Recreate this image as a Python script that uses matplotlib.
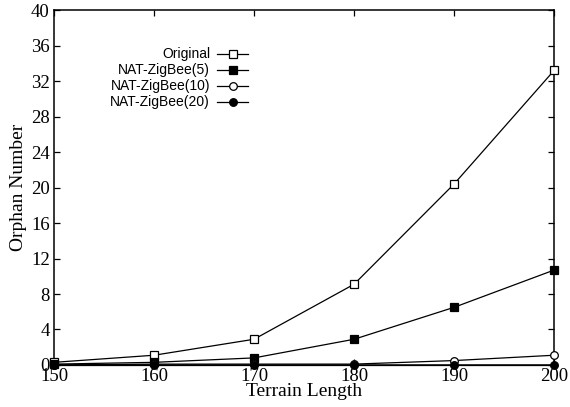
import matplotlib
matplotlib.use("Agg")
import matplotlib.pyplot as plt
from matplotlib.lines import Line2D

terrain = [150, 160, 170, 180, 190, 200]
original = [0.3, 1.1, 2.9, 9.1, 20.4, 33.2]
nat5 = [0.1, 0.3, 0.8, 2.9, 6.5, 10.7]
nat10 = [0.0, 0.1, 0.1, 0.1, 0.5, 1.1]
nat20 = [0.0, 0.0, 0.0, 0.0, 0.0, 0.0]
labels = ["Original", "NAT-ZigBee(5)", "NAT-ZigBee(10)", "NAT-ZigBee(20)"]
yticks = [0, 4, 8, 12, 16, 20, 24, 28, 32, 36, 40]
xticks = [150, 160, 170, 180, 190, 200]

fig = plt.figure(figsize=(5.7, 4.07), dpi=100)
ax = fig.add_axes([0.0947, 0.1032, 0.8775, 0.8722])

lw = 0.9
styles = [
    dict(marker="s", mfc="white"),
    dict(marker="s", mfc="black"),
    dict(marker="o", mfc="white"),
    dict(marker="o", mfc="black"),
]
series = [original, nat5, nat10, nat20]
for vals, st in zip(series, styles):
    ax.plot(terrain, vals, color="black", lw=lw, mec="black", ms=5.5, mew=0.9,
            clip_on=False, zorder=3, **st)

ax.set_xlim(150, 200)
ax.set_ylim(0, 40)
ax.set_xticks(xticks)
ax.set_yticks(yticks)
ax.tick_params(direction="in", length=4, width=0.9, top=True, right=True)
ax.tick_params(axis="x", pad=2)
ax.tick_params(axis="y", pad=3)
for t in ax.get_xticklabels() + ax.get_yticklabels():
    t.set_fontfamily("Liberation Serif")
    t.set_fontsize(13.5)
for s in ax.spines.values():
    s.set_linewidth(1.1)

ax.set_xlabel("Terrain Length", fontfamily="Liberation Serif", fontsize=14, labelpad=-1)
ax.set_ylabel("Orphan Number", fontfamily="Liberation Serif", fontsize=14, labelpad=3)

# legend drawn manually (gnuplot style: right-aligned text, sample to the right)
def ax_x(px):
    return (px - 54) / 500.0

def ax_y(py):
    return (365 - py) / 355.0

rows = [54, 70, 86, 102]
for lab, st, py in zip(labels, styles, rows):
    y = ax_y(py)
    ax.text(ax_x(210), y, lab, ha="right", va="center", transform=ax.transAxes,
            fontfamily="Liberation Sans", fontsize=10)
    ax.add_line(Line2D([ax_x(217), ax_x(248)], [y, y], transform=ax.transAxes,
                       color="black", lw=lw, clip_on=False))
    ax.add_line(Line2D([ax_x(232.5)], [y], transform=ax.transAxes, color="black",
                       mec="black", ms=5.5, mew=0.9, clip_on=False, **st))

fig.savefig("out.png", dpi=100)
